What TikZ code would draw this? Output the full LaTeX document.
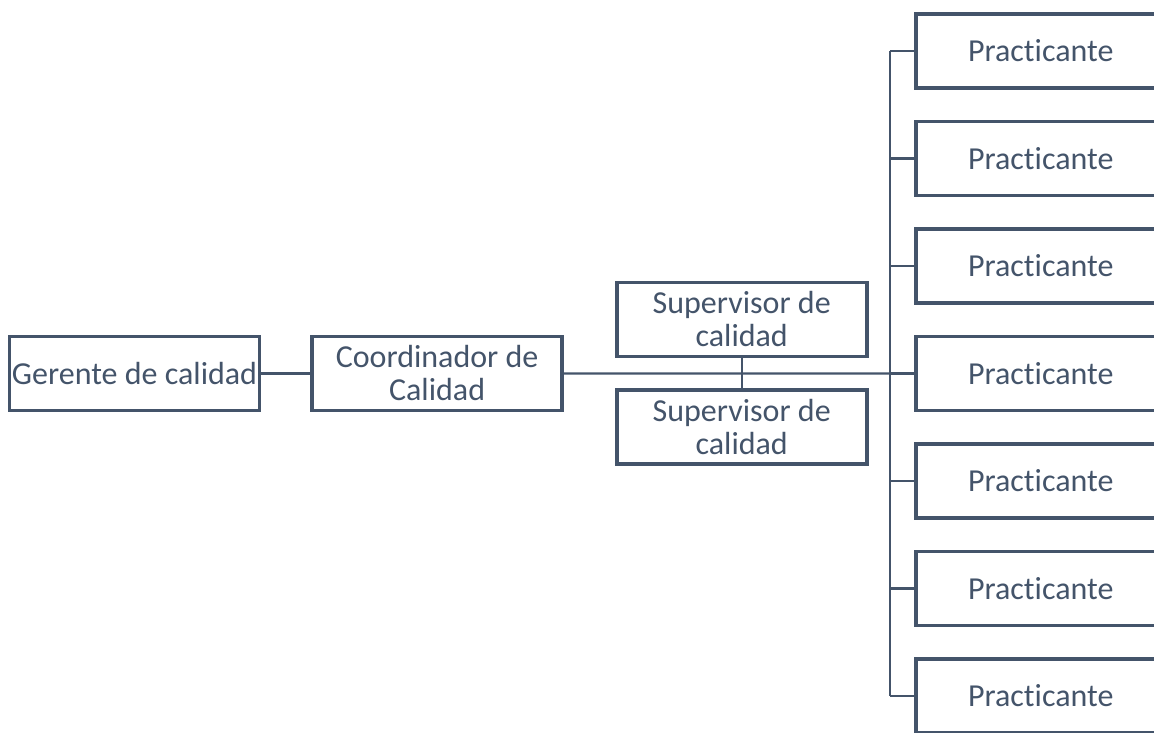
\documentclass[tikz,border=0pt]{standalone}
\usepackage{fontspec}
\setmainfont{Carlito}[Ligatures=NoCommon]
\usepackage{xcolor}
\usepackage{tikz}
\usetikzlibrary{positioning}

\definecolor{pizarra}{HTML}{44546A}

\begin{document}
\begin{tikzpicture}[node distance=24pt,
  cargo/.style={rectangle,draw=pizarra,line width=1.8pt,text=pizarra,
    minimum width=125pt,minimum height=37pt,inner sep=0pt,align=center,
    font=\fontsize{16}{16.5}\selectfont},
  linea/.style={draw=pizarra,line width=1.1pt}]
  \useasboundingbox (-67.25pt,186.75pt) rectangle (509.75pt,-179.25pt);
  \node[cargo] (gerente) at (0,0) {Gerente de calidad};
  \node[cargo,right=24.5pt of gerente] (coord) {Coordinador de\\Calidad};
  \node[cargo,right=25.5pt of coord,yshift=27pt] (sup1) {Supervisor de\\calidad};
  \node[cargo,below=15pt of sup1] (sup2) {Supervisor de\\calidad};
  \node[cargo,right=175pt of coord,yshift=161.25pt] (p1) {Practicante};
  \foreach \i [count=\j from 1] in {2,...,7}
    \node[cargo,below=14.95pt of p\j] (p\i) {Practicante};
  % conectores
  \draw[linea] (gerente) -- (coord);
  \draw[linea] (coord.east) -- (p4.west);
  \draw[linea] (sup1.south) -- (sup2.north);
  \foreach \i in {1,...,7}
    \draw[linea] (p\i.west) -- ++(-12pt,0) coordinate (b\i);
  \draw[linea] (b1) -- (b7);
\end{tikzpicture}
\end{document}
